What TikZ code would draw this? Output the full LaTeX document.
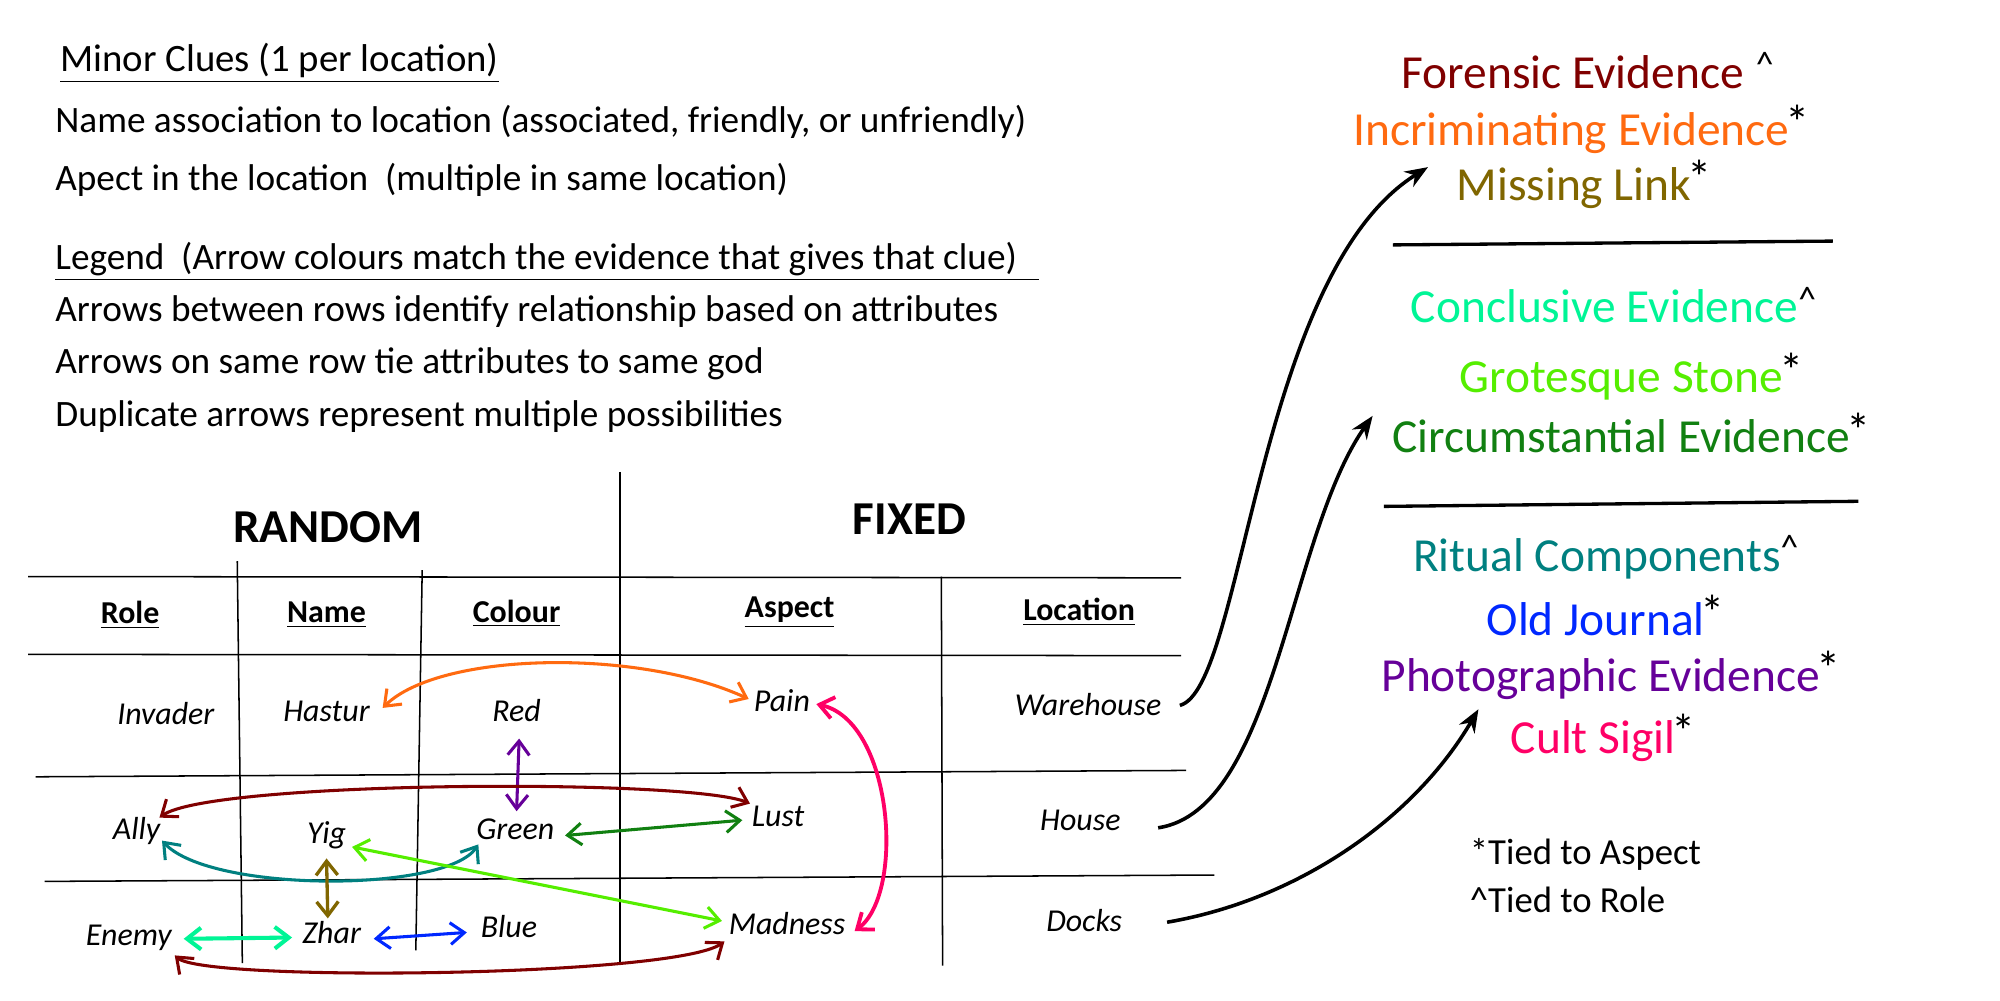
\documentclass[tikz,border=0pt]{standalone}
\usepackage{fontspec}
\setmainfont{Carlito}
\usetikzlibrary{arrows.meta,calc}
\definecolor{cmaroon}{HTML}{800000}
\definecolor{corange}{HTML}{FF6A10}
\definecolor{colive}{HTML}{806600}
\definecolor{cspring}{HTML}{00F596}
\definecolor{clime}{HTML}{55EE00}
\definecolor{cgreen}{HTML}{118011}
\definecolor{cteal}{HTML}{008080}
\definecolor{cblue}{HTML}{0028FF}
\definecolor{cpurple}{HTML}{660099}
\definecolor{cmagenta}{HTML}{FF0066}
\newcommand{\supast}{\rlap{\kern-1.5pt\raisebox{2.2pt}{\fontsize{19}{19}\selectfont\color{black}*}}}
\newcommand{\supcar}{\rlap{\raisebox{4.5pt}{\fontsize{14}{14}\selectfont\color{black}\textasciicircum}}}
\begin{document}
\begin{tikzpicture}[x=0.5pt,y=-0.5pt,
  lefttext/.style={anchor=base west,inner sep=0pt,font=\fontsize{14.6}{16}\selectfont},
  cell/.style={font=\itshape\fontsize{12.5}{14}\selectfont,text height=9pt,text depth=3pt,inner sep=1pt},
  hdr/.style={font=\bfseries\fontsize{12.5}{14}\selectfont,inner sep=1pt},
  big/.style={font=\bfseries\fontsize{18.5}{20}\selectfont,inner sep=1pt},
  ev/.style={anchor=base,font=\fontsize{18.6}{20}\selectfont,inner sep=0pt},
  note/.style={anchor=base west,inner sep=0pt,font=\fontsize{14.4}{16}\selectfont},
  grid/.style={line width=0.6pt},
  dbl/.style={{Straight Barb[length=5.5pt,width=8.5pt]}-{Straight Barb[length=5.5pt,width=8.5pt]},line width=1.2pt},
  blk/.style={-{Stealth[length=9pt,width=7pt]},line width=1.4pt},
  sep/.style={line width=1.3pt}]
\useasboundingbox (0,0) rectangle (1568,784);
\fill[white] (0,0) rectangle (1568,784);

% top-left texts
\node[lefttext,font=\fontsize{15.2}{17}\selectfont] (t1) at (47,56) {\underline{Minor Clues (1 per location)}};
\node[lefttext] (t2) at (43,104) {Name association to location (associated, friendly, or unfriendly)};
\node[lefttext] (t3) at (43,149) {Apect in the location\ \ (multiple in same location)};
\node[lefttext] (t4) at (43,211) {\underline{Legend\ \ (Arrow colours match the evidence that gives that clue)\hspace{0.6em}}};
\node[lefttext] (t5) at (43,252) {Arrows between rows identify relationship based on attributes};
\node[lefttext] (t6) at (43,293) {Arrows on same row tie attributes to same god};
\node[lefttext] (t7) at (43,334) {Duplicate arrows represent multiple possibilities};

% table
\node[big] (random) at (257,413) {RANDOM};
\node[big] (fixed) at (713,407) {FIXED};
\draw[grid] (486,370) -- (486,755);
\draw[grid] (22,452) -- (926,453);
\draw[grid] (22,513) -- (926,514);
\draw[grid] (28,609) -- (930,604);
\draw[grid] (35,691) -- (952,686);
\draw[grid] (186,440) -- (190,755);
\draw[grid] (331,447) -- (326,745);
\draw[grid] (738,452) -- (739,757);

\node[hdr] (hrole) at (102,482) {\underline{Role}};
\node[hdr] (hname) at (256,482) {\underline{Name}};
\node[hdr] (hcol) at (405,481) {\underline{Colour}};
\node[hdr] (hasp) at (619,480) {\underline{Aspect}};
\node[hdr] (hloc) at (846,480) {\underline{Location}};

\node[cell] (invader) at (130,562) {Invader};
\node[cell] (hastur) at (256,560) {Hastur};
\node[cell] (red) at (405,560) {Red};
\node[cell] (pain) at (613,552) {Pain};
\node[cell] (warehouse) at (853,555) {Warehouse};
\node[cell] (ally) at (107,652) {Ally};
\node[cell] (yig) at (256,655) {Yig};
\node[cell] (green) at (404,652) {Green};
\node[cell] (lust) at (610,642) {Lust};
\node[cell] (house) at (847,645) {House};
\node[cell] (enemy) at (101,735) {Enemy};
\node[cell] (zhar) at (260,734) {Zhar};
\node[cell] (blue) at (399,729) {Blue};
\node[cell] (madness) at (617,727) {Madness};
\node[cell] (docks) at (850,724) {Docks};

% coloured arrows
\draw[dbl,corange] ($(hastur)+(44,-5)$) .. controls (345,511) and (500,508) .. ($(pain)+(-26,-4)$);
\draw[dbl,cmagenta,line width=1.5pt] ($(pain)+(27,0)$) .. controls (700,565) and (710,700) .. ($(madness)+(53,3)$);
\draw[dbl,cpurple] ($(red)+(2,19)$) -- ($(green)+(1,-16)$);
\draw[dbl,cmaroon] ($(ally)+(18,-11)$) .. controls (165,612) and (540,610) .. ($(lust)+(-22,-12)$);
\draw[dbl,cgreen] ($(green)+(39,3)$) -- ($(lust)+(-28,1)$);
\draw[dbl,cteal] ($(ally)+(20,7)$) .. controls (165,700) and (350,700) .. ($(green)+(-29,10)$);
\draw[dbl,clime] ($(yig)+(20,9)$) -- ($(madness)+(-51,-5)$);
\draw[dbl,colive,line width=1.3pt] ($(yig)+(0,18)$) -- ($(zhar)+(-3,-14)$);
\draw[dbl,cspring,line width=1.6pt] ($(enemy)+(43,1)$) -- ($(zhar)+(-31,1)$);
\draw[dbl,cblue] ($(zhar)+(33,2)$) -- ($(blue)+(-33,2)$);
\draw[dbl,cmaroon] ($(enemy)+(36,14)$) .. controls (160,770) and (530,766) .. ($(madness)+(-49,11)$);

% evidence lists
\node[ev,text=cmaroon] (forensic) at (1233,69) {Forensic Evidence\rlap{\hspace{0.25em}\raisebox{4.5pt}{\fontsize{14}{14}\selectfont\color{black}\textasciicircum}}};
\node[ev,text=corange] (incrim) at (1232,114) {Incriminating Evidence\supast};
\node[ev,text=colive] (missing) at (1234,157) {Missing Link\supast};
\draw[sep] (1092,192) -- (1437,189);
\node[ev,text=cspring] (conclusive) at (1258,253) {Conclusive Evidence\supcar};
\node[ev,text=clime] (grotesque) at (1271,308) {Grotesque Stone\supast};
\node[ev,text=cgreen] (circum) at (1271,355) {Circumstantial Evidence\supast};
\draw[sep] (1085,397) -- (1457,393);
\node[ev,text=cteal] (ritual) at (1252,448) {Ritual Components\supcar};
\node[ev,text=cblue] (journal) at (1251,498) {Old Journal\supast};
\node[ev,text=cpurple] (photo) at (1255,542) {Photographic Evidence\supast};
\node[ev,text=cmagenta] (sigil) at (1249,591) {Cult Sigil\supast};
\node[note] (n1) at (1152,678) {*Tied to Aspect};
\node[note] (n2) at (1152,715) {\textasciicircum Tied to Role};

% black arrows
\draw[blk] ($(warehouse)+(72,-2)$) .. controls (975,540) and (985,215) .. ($(missing.base west)+(-22,-26)$);
\draw[blk] ($(house)+(61,4)$) .. controls (1000,635) and (1010,420) .. ($(circum.base west)+(-15,-29)$);
\draw[blk] ($(docks)+(65,-1)$) .. controls (1020,705) and (1110,640) .. ($(sigil.base west)+(-25,-35)$);
\end{tikzpicture}
\end{document}
